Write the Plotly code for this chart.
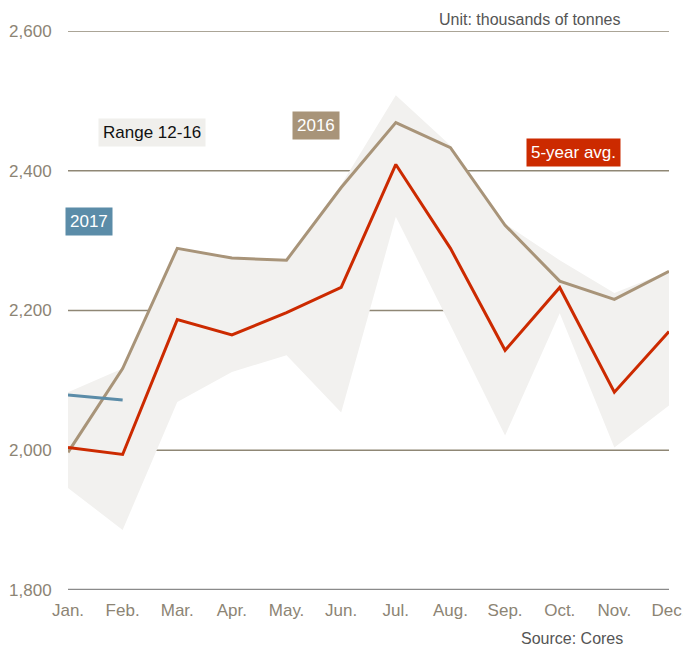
import plotly.graph_objects as go

months = ["Jan.", "Feb.", "Mar.", "Apr.", "May.", "Jun.", "Jul.", "Aug.", "Sep.", "Oct.", "Nov.", "Dec."]
avg5 = [2004, 1994, 2187, 2165, 2197, 2233, 2409, 2289, 2143, 2233, 2083, 2170]
y2016 = [1997, 2117, 2289, 2275, 2272, 2376, 2469, 2433, 2322, 2242, 2216, 2256]
y2017 = [2079, 2072]
range_hi = [2083, 2117, 2289, 2275, 2272, 2380, 2508, 2436, 2324, 2272, 2225, 2256]
range_lo = [1946, 1886, 2069, 2112, 2136, 2054, 2334, 2179, 2021, 2196, 2004, 2064]
yticks = [1800, 2000, 2200, 2400, 2600]

idx = list(range(len(months)))
font = "Liberation Sans, Arial, sans-serif"
tick_col = "#8c8474"

fig = go.Figure()
fig.add_trace(go.Scatter(x=idx, y=range_lo, mode="lines", line=dict(width=0), hoverinfo="skip", showlegend=False))
fig.add_trace(go.Scatter(x=idx, y=range_hi, mode="lines", line=dict(width=0), fill="tonexty",
                         fillcolor="#f2f1ef", showlegend=False))
fig.add_trace(go.Scatter(x=idx, y=y2016, mode="lines", line=dict(color="#a89479", width=3), showlegend=False))
fig.add_trace(go.Scatter(x=idx, y=avg5, mode="lines", line=dict(color="#cc2a00", width=3), showlegend=False))
fig.add_trace(go.Scatter(x=idx[:len(y2017)], y=y2017, mode="lines", line=dict(color="#5b8ca8", width=3), showlegend=False))

def box(x, y, text, bg, fc):
    fig.add_annotation(x=x, y=y, xref="x", yref="y", text=text, showarrow=False,
                       bgcolor=bg, font=dict(family=font, size=17, color=fc), borderpad=4)

box(1.54, 2455, "Range 12-16", "#f0efec", "#111111")
box(4.54, 2465, "2016", "#a89479", "#ffffff")
box(0.38, 2328, "2017", "#5b8ca8", "#ffffff")
box(9.26, 2426, "5-year avg.", "#cc2a00", "#ffffff")

fig.add_annotation(x=1.0, y=1.0, xref="paper", yref="paper", xanchor="right", yanchor="bottom",
                   xshift=-47, yshift=1, text="Unit: thousands of tonnes", showarrow=False,
                   font=dict(family=font, size=16, color="#555555"))
fig.add_annotation(x=1.0, y=0, xref="paper", yref="paper", xanchor="right", yanchor="top",
                   xshift=-44, yshift=-38, text="Source: Cores", showarrow=False,
                   font=dict(family=font, size=16, color="#555555"))

shapes = []
for v in yticks:
    if v == 1800:
        shapes.append(dict(type="line", xref="paper", yref="y", x0=0, x1=1, y0=v, y1=v, layer="above",
                           line=dict(color="#8a8a8a", width=2.5)))
    else:
        shapes.append(dict(type="line", xref="paper", yref="y", x0=0, x1=1, y0=v, y1=v, layer="below",
                           line=dict(color="#8f8775", width=1.5)))

fig.update_layout(
    width=683, height=645,
    margin=dict(l=68, r=14, t=31, b=55),
    plot_bgcolor="white", paper_bgcolor="white",
    font=dict(family=font),
    shapes=shapes,
    xaxis=dict(range=[0, 11], tickvals=idx, ticktext=months, showgrid=False, zeroline=False,
               showline=False, tickfont=dict(size=17, color=tick_col), ticks="outside",
               ticklen=5, tickcolor="rgba(0,0,0,0)", automargin=False, ticklabeloverflow="allow"),
    yaxis=dict(range=[1800, 2600], tickvals=yticks, ticktext=[f"{v:,}" for v in yticks],
               showgrid=False, zeroline=False,
               showline=False, tickfont=dict(size=17, color=tick_col), ticks="outside",
               ticklen=12, tickcolor="rgba(0,0,0,0)", automargin=False),
)

fig.write_html("out.html", config={"displayModeBar": False},
               post_script="document.body.style.margin='0';document.body.style.overflow='hidden';")
